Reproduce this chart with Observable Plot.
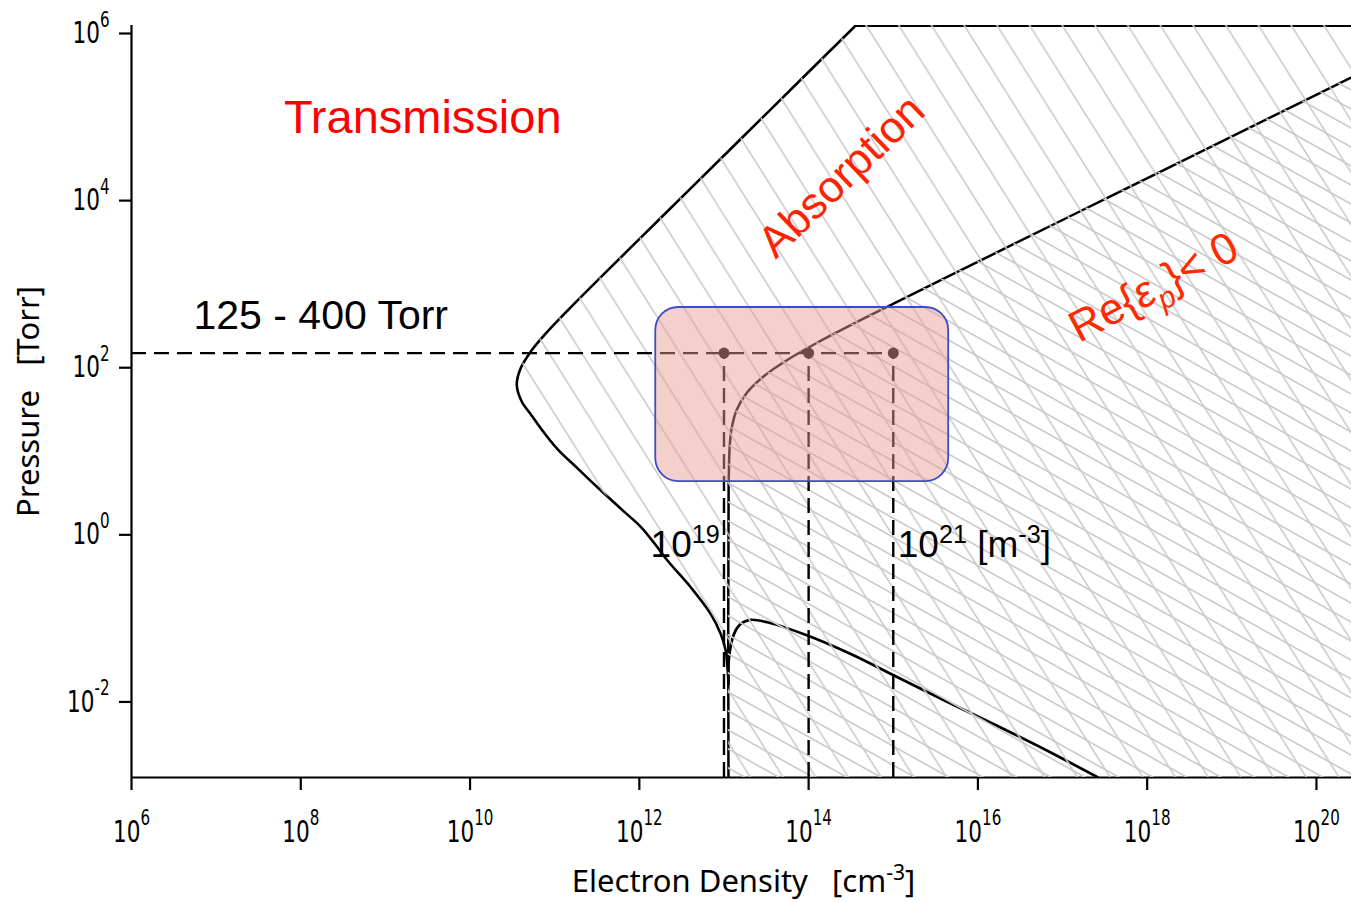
<!DOCTYPE html>
<html><head><meta charset="utf-8">
<script src="https://cdn.jsdelivr.net/npm/d3@7"></script>
<script src="https://cdn.jsdelivr.net/npm/@observablehq/plot@0.6"></script>
<style>
html,body{margin:0;padding:0;background:#fff;}
svg text{white-space:pre;}
</style></head><body><div id="chart"></div>
<script>
// ---------------- data (log10 values) ----------------
const xTickExponents = [6, 8, 10, 12, 14, 16, 18, 20];
const yTickExponents = [-2, 0, 2, 4, 6];
const densityDomainExp = [6, 20.414];   // electron density, cm^-3
const pressureDomainExp = [-3, 6];      // pressure, Torr

// outer absorption boundary (from the top down to the cusp)
const absorptionLogP = [6.0, 5.0, 4.0, 3.5, 3.0, 2.6, 2.3, 2.1, 1.9, 1.7, 1.5, 1.35, 1.2, 0.93, 0.7, 0.474, 0.2, 0.0, -0.2, -0.403, -0.723, -1.041, -1.281, -1.481, -1.68, -1.88];
const absorptionLogN = [14.556, 13.556, 12.556, 12.056, 11.557, 11.163, 10.882, 10.719, 10.599, 10.552, 10.61, 10.715, 10.82, 11.033, 11.27, 11.505, 11.80, 12.017, 12.18, 12.332, 12.607, 12.843, 12.961, 13.020, 13.041, 13.053];

// lower absorption boundary (from the cusp to the bottom edge)
const lowerLogN = [13.053, 13.060, 13.119, 13.198, 13.316, 13.513, 13.986, 14.536, 15.009, 15.679, 16.269, 16.860, 17.415];
const lowerLogP = [-1.88, -1.561, -1.281, -1.161, -1.113, -1.142, -1.301, -1.540, -1.780, -2.115, -2.402, -2.701, -2.997];

// Re{eps_p} = 0 boundary
const plasmaLogP = [-3, 0.5, 1.0, 1.2, 1.4, 1.6, 1.8, 2.0, 2.2, 2.5, 3.0, 4.0, 5.0, 5.45];
const plasmaLogN = [13.053, 13.055, 13.070, 13.095, 13.151, 13.266, 13.467, 13.752, 14.096, 14.666, 15.656, 17.655, 19.655, 20.555];

// top edge of the absorption region
const topEdgeLogN = [14.556, 20.414];
const topEdgeLogP = [6, 6];

// operating point
const operatingPressure = 120;
const markerDensities = [1e13, 1e14, 1e15];

// highlight box
const boxLogN = [12.194, 15.655];
const boxLogP = [0.542, 2.625];

// annotations
const labelTexts = ["Transmission", "Absorption", "Re{~{ε}_{p}}< 0", "125 - 400 Torr", "10^{19}", "10^{21} [m^{-3}]"];
const labelLogN = [9.441, 14.391, 18.077, 8.236, 12.95, 15.053];
const labelLogP = [4.890, 4.193, 2.864, 2.527, -0.224, -0.224];

const xTitle = "Electron Density   [cm^{-3}]";
const yTitle = "Pressure   [Torr]";

// ---------------- build tables ----------------
const xMax = 10 ** densityDomainExp[1];
const yMin = 10 ** pressureDomainExp[0];
const absorption = absorptionLogP.map((p, i) => ({p: 10 ** p, n: 10 ** absorptionLogN[i]}));
const regionA = absorption.concat([{p: yMin, n: 10 ** plasmaLogN[0]}]);
const lower = lowerLogP.map((p, i) => ({p: 10 ** p, n: 10 ** lowerLogN[i]}));
const plasma = plasmaLogP.map((p, i) => ({p: 10 ** p, n: 10 ** plasmaLogN[i]}));
const topEdge = topEdgeLogP.map((p, i) => ({p: 10 ** p, n: 10 ** topEdgeLogN[i]}));
const markers = markerDensities.map(n => ({n, p: operatingPressure}));
const labels = labelTexts.map((t, i) => ({t, n: 10 ** labelLogN[i], p: 10 ** labelLogP[i]}));

const lbl = (i, opts) => Plot.text([labels[i]], {x: "n", y: "p", text: "t", fontFamily: "Liberation Sans, Arial, sans-serif", ...opts});
const expFormat = d => `10^{${Math.round(Math.log10(d))}}`;
const TICK_FS = 30;

const svg = Plot.plot({
  width: 1351,
  height: 902,
  marginLeft: 131,
  marginRight: 0,
  marginTop: 25,
  marginBottom: 125,
  style: {fontFamily: "DejaVu Sans, sans-serif", fontSize: TICK_FS + "px", color: "black", background: "white", overflow: "visible"},
  x: {type: "log", domain: [10 ** densityDomainExp[0], xMax]},
  y: {type: "log", domain: [yMin, 10 ** pressureDomainExp[1]]},
  marks: [
    // axis lines
    Plot.ruleY([yMin], {stroke: "black", strokeWidth: 2.2}),
    Plot.ruleX([10 ** densityDomainExp[0]], {stroke: "black", strokeWidth: 2.2}),
    // boundaries
    Plot.line(absorption, {x: "n", y: "p", curve: "catmull-rom", stroke: "black", strokeWidth: 2.6, clip: true}),
    Plot.line(lower, {x: "n", y: "p", curve: "catmull-rom", stroke: "black", strokeWidth: 2.7, clip: true}),
    Plot.line(plasma, {x: "n", y: "p", curve: "catmull-rom", stroke: "black", strokeWidth: 2.5, clip: true}),
    Plot.line(topEdge, {x: "n", y: "p", stroke: "black", strokeWidth: 3, clip: true}),
    // hatched regions
    Plot.areaX(regionA, {y: "p", x1: "n", x2: () => xMax, curve: "catmull-rom", fill: "url(#hatchSteep)", clip: true}),
    Plot.areaX(plasma, {y: "p", x1: "n", x2: () => xMax, curve: "catmull-rom", fill: "url(#hatchShallow)", clip: true}),
    // operating lines and points
    Plot.ruleY([operatingPressure], {x1: () => 10 ** densityDomainExp[0], x2: () => markerDensities[markerDensities.length - 1], stroke: "black", strokeWidth: 2.4, strokeDasharray: "15,8"}),
    Plot.ruleX(markerDensities, {y1: () => yMin, y2: () => operatingPressure, stroke: "black", strokeWidth: 2.4, strokeDasharray: "15,7"}),
    Plot.dot(markers, {x: "n", y: "p", r: 5.5, fill: "black", stroke: "none"}),
    // highlight box
    Plot.rect([0], {x1: () => 10 ** boxLogN[0], x2: () => 10 ** boxLogN[1], y1: () => 10 ** boxLogP[0], y2: () => 10 ** boxLogP[1], rx: 23, fill: "#e69c90", fillOpacity: 0.47, stroke: "#3a4cc8", strokeWidth: 1.8, ariaLabel: "highlight"}),
    // annotations
    lbl(0, {fontSize: 47, fill: "#ff0000"}),
    lbl(1, {fontSize: 44, fill: "#ff2200", rotate: -44}),
    lbl(2, {fontSize: 44, fill: "#ff2a00", rotate: -28}),
    lbl(3, {fontSize: 41, fill: "black"}),
    lbl(4, {fontSize: 37, fill: "black", textAnchor: "end"}),
    lbl(5, {fontSize: 37, fill: "black", textAnchor: "start"}),
    // axes
    Plot.axisX(xTickExponents.map(e => 10 ** e), {tickSize: 13, tickPadding: 30, strokeWidth: 2.2, fontSize: TICK_FS, tickFormat: expFormat, label: null}),
    Plot.axisY(yTickExponents.map(e => 10 ** e), {tickSize: 12, tickPadding: 10, strokeWidth: 2.2, fontSize: TICK_FS, dy: 8, tickFormat: expFormat, label: null}),
    Plot.text([xTitle], {text: d => d, frameAnchor: "bottom", textAnchor: "middle", lineAnchor: "middle", dy: 105, dx: 2, fontFamily: "Noto Sans, sans-serif", fontSize: 31}),
    Plot.text([yTitle], {text: d => d, frameAnchor: "left", textAnchor: "middle", lineAnchor: "middle", dx: -102, rotate: -90, fontFamily: "Noto Sans, sans-serif", fontSize: 31})
  ]
});

document.getElementById("chart").appendChild(svg);

// hatch patterns
const defs = d3.select(svg).insert("defs", ":first-child");
function hatch(id, w, h, color, width) {
  const p = defs.append("pattern").attr("id", id).attr("patternUnits", "userSpaceOnUse").attr("width", w).attr("height", h);
  for (const k of [-1, 0, 1]) {
    p.append("line")
      .attr("x1", k * w - 0.5 * w).attr("y1", -0.5 * h)
      .attr("x2", k * w + 1.5 * w).attr("y2", 1.5 * h)
      .attr("stroke", color).attr("stroke-width", width);
  }
}
hatch("hatchSteep", 32.7, 52, "#cbcbcb", 1.6);
hatch("hatchShallow", 34, 19, "#cbcbcb", 1.6);

// rich text: ^{sup}, _{sub italic}, ~{italic}
function richText(el, raise, supSize, lowerBy, baseSize) {
  const s = el.textContent;
  if (!/[\^_~]\{/.test(s)) return false;
  const fs = baseSize || parseFloat(getComputedStyle(el).fontSize);
  const re = /([\^_~])\{([^}]*)\}/g;
  const parts = [];
  let last = 0, m;
  while ((m = re.exec(s))) {
    if (m.index > last) parts.push(["", s.slice(last, m.index)]);
    parts.push([m[1], m[2]]);
    last = re.lastIndex;
  }
  if (last < s.length) parts.push(["", s.slice(last)]);
  while (el.firstChild) el.removeChild(el.firstChild);
  let shift = 0;
  for (const [k, t] of parts) {
    const ts = document.createElementNS("http://www.w3.org/2000/svg", "tspan");
    let target = 0;
    if (k === "^") { target = -raise * fs; ts.style.fontSize = (supSize * fs) + "px"; }
    else if (k === "_") { target = lowerBy * fs; ts.style.fontSize = (supSize * fs) + "px"; ts.style.fontStyle = "italic"; }
    else { ts.style.fontSize = fs + "px"; if (k === "~") ts.style.fontStyle = "italic"; }
    const dy = target - shift;
    if (dy) ts.setAttribute("dy", dy);
    shift = target;
    ts.textContent = t;
    el.appendChild(ts);
  }
  return true;
}
// tick labels (inside Plot's axis groups): exponent markup, narrower glyphs
d3.select(svg).selectAll("text").each(function () {
  const g = this.closest("g");
  const lab = g ? (g.getAttribute("aria-label") || "") : "";
  if (lab.includes("tick")) {
    this.style.fontSize = TICK_FS + "px";
    richText(this, 0.55, 0.7, 0, TICK_FS);
    const t = this.getAttribute("transform") || "";
    this.setAttribute("transform", t + " scale(0.72,1)");
  }
});
d3.select(svg).selectAll("text").each(function () { richText(this, 0.4, 0.68, 0.25); });
d3.select(svg).selectAll('g[aria-label="highlight"] rect').style("filter", "drop-shadow(2px 3px 3px rgba(0,0,0,0.25))");
</script></body></html>
